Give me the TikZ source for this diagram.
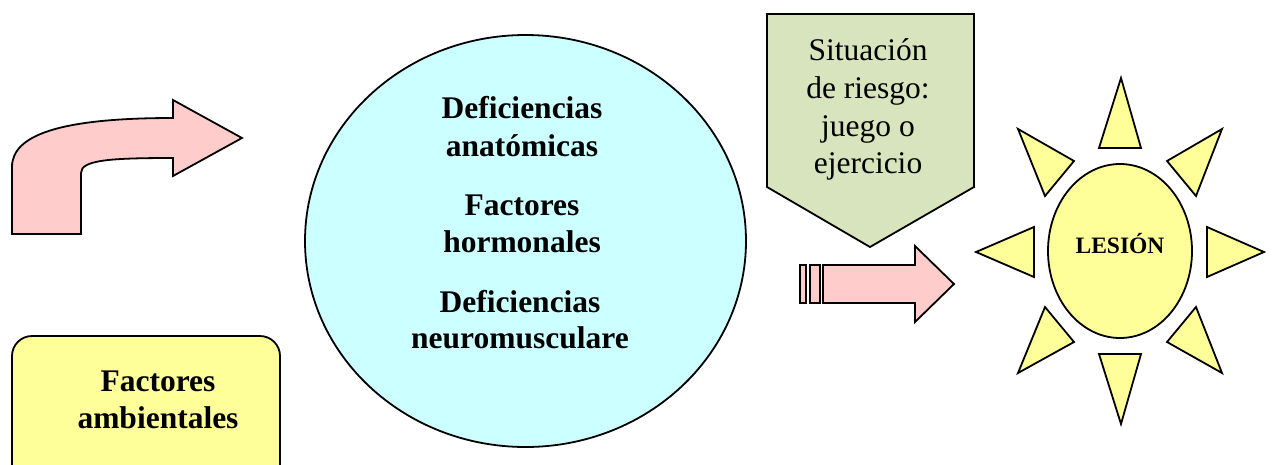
\documentclass[tikz,border=0pt]{standalone}
\usepackage{fontspec}
\setmainfont{Liberation Serif}
\definecolor{pinkf}{HTML}{FFCCCC}
\definecolor{cyanf}{HTML}{CCFFFF}
\definecolor{greenf}{HTML}{D7E4BD}
\definecolor{yellowf}{HTML}{FFFF99}
\tikzset{
  outl/.style={draw=black, line width=1.8pt, line join=miter},
  bigtxt/.style={font=\fontsize{31.5}{37.5}\selectfont\bfseries, anchor=base, inner sep=0pt},
  regtxt/.style={font=\fontsize{31.5}{37.5}\selectfont, anchor=base, inner sep=0pt},
  ray/.style={outl, fill=yellowf}
}
\begin{document}
\begin{tikzpicture}[x=1pt, y=-1pt]
\useasboundingbox (0,0) rectangle (1274,464);
\clip (0,0) rectangle (1274,464);
% bent arrow
\path[outl, fill=pinkf] (12,234) -- (12,167) .. controls (12,135) and (60,118) .. (173,118)
  -- (173,100) -- (242,138) -- (173,176) -- (173,158)
  .. controls (110,158) and (81,160) .. (81,173) -- (81,234) -- cycle;
% big ellipse
\path[outl, fill=cyanf] (525.5,241) ellipse [x radius=220.5, y radius=206];
\node[bigtxt] (d1a) at (522,118) {Deficiencias};
\node[bigtxt] (d1b) at (522,156) {anatómicas};
\node[bigtxt] (f1a) at (522,215) {Factores};
\node[bigtxt] (f1b) at (522,252) {hormonales};
\node[bigtxt] (d2a) at (520,312) {Deficiencias};
\node[bigtxt] (d2b) at (520,348) {neuromusculare};
% pentagon
\path[outl, fill=greenf] (767,14) -- (974,14) -- (974,187) -- (870,247) -- (767,187) -- cycle;
\node[regtxt] (s1) at (868,60) {Situación};
\node[regtxt] (s2) at (868,98) {de riesgo:};
\node[regtxt] (s3) at (868,136) {juego o};
\node[regtxt] (s4) at (868,173) {ejercicio};
% striped arrow
\path[outl, fill=pinkf] (800,265) rectangle (806,303);
\path[outl, fill=pinkf] (810,265) rectangle (820,303);
\path[outl, fill=pinkf] (823,265) -- (915,265) -- (915,246) -- (954,284) -- (915,322) -- (915,303) -- (823,303) -- cycle;
% sun
\path[ray] (1121,78) -- (1141,148) -- (1099,148) -- cycle;
\path[ray] (1121,424) -- (1141,354) -- (1099,354) -- cycle;
\path[ray] (976,252) -- (1034,227) -- (1034,277) -- cycle;
\path[ray] (1264,252) -- (1207,227) -- (1207,277) -- cycle;
\path[ray] (1018,129) -- (1074,161) -- (1045,196) -- cycle;
\path[ray] (1222,129) -- (1167,161) -- (1196,196) -- cycle;
\path[ray] (1045,307) -- (1074,342) -- (1018,373) -- cycle;
\path[ray] (1196,307) -- (1167,342) -- (1222,373) -- cycle;
\path[outl, fill=yellowf] (1120,251) ellipse [x radius=72, y radius=87];
\node[font=\fontsize{23.5}{28}\selectfont\bfseries, anchor=base, inner sep=0pt] (les) at (1120,253) {LESIÓN};
% rounded box
\path[outl, fill=yellowf, rounded corners=20pt] (12,336) rectangle (280,490);
\node[bigtxt] (fa1) at (158,391) {Factores};
\node[bigtxt] (fa2) at (158,428) {ambientales};
\end{tikzpicture}
\end{document}
